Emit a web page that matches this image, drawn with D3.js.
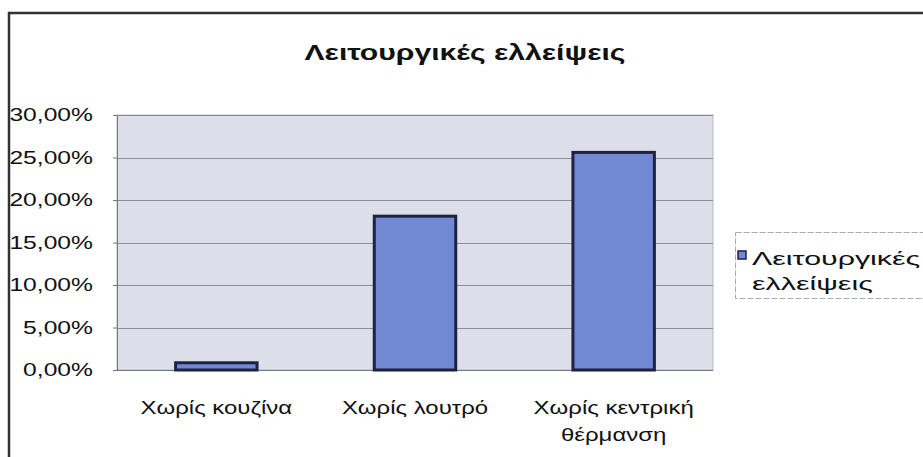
<!DOCTYPE html>
<html><head><meta charset="utf-8">
<script src="https://cdn.jsdelivr.net/npm/d3@7"></script>
<style>body{margin:0;background:#fff;} svg{display:block;font-family:"Liberation Sans",Arial,sans-serif;}</style>
</head><body>
<script>
const categories = [["Χωρίς κουζίνα"], ["Χωρίς λουτρό"], ["Χωρίς κεντρική", "θέρμανση"]];
const values = [0.0085, 0.181, 0.256];
const yTicks = [0, 0.05, 0.10, 0.15, 0.20, 0.25, 0.30];
const seriesName = ["Λειτουργικές", "ελλείψεις"];
const title = "Λειτουργικές ελλείψεις";

const W = 923, H = 457;
const SX = 1.37; // horizontal stretch of the original picture
const svg = d3.select("body").append("svg").attr("width", W).attr("height", H);

// outer frame
svg.append("path").attr("d", `M9,${H} V13 H${W}`).attr("fill","none").attr("stroke","#333").attr("stroke-width",2.5);

const plot = {l:117, r:713, t:115, b:370};
const x = d3.scaleBand().domain(d3.range(categories.length)).range([plot.l, plot.r]).paddingInner(0.59).paddingOuter(0.295);
const y = d3.scaleLinear().domain([0, 0.30]).range([plot.b, plot.t]);

svg.append("rect").attr("x",plot.l).attr("y",plot.t).attr("width",plot.r-plot.l).attr("height",plot.b-plot.t)
  .attr("fill","#dcdfe9").attr("stroke","#b8bac0").attr("stroke-width",1);

svg.append("g").selectAll("line").data(yTicks.slice(1)).join("line")
  .attr("x1",plot.l).attr("x2",plot.r).attr("y1",d=>Math.round(y(d))+0.5).attr("y2",d=>Math.round(y(d))+0.5)
  .attr("stroke","#8c8e94").attr("stroke-width",1.2);

const fmt = d => d3.format(".2f")(d*100).replace(".", ",") + "%";
const yAxis = d3.axisLeft(y).tickValues(yTicks).tickFormat(fmt).tickSize(4).tickPadding(20);
const ga = svg.append("g").attr("transform",`translate(${plot.l},0)`).call(yAxis);
ga.select(".domain").attr("stroke","#777");
ga.selectAll(".tick line").attr("stroke","#777");
ga.selectAll("text").attr("font-size",18).attr("fill","#111").attr("font-family","Liberation Sans, Arial, sans-serif")
  .attr("x",0).attr("transform",`translate(-24,0) scale(${SX},1)`);

// bottom axis line
svg.append("line").attr("x1",plot.l).attr("x2",plot.r).attr("y1",plot.b+0.5).attr("y2",plot.b+0.5).attr("stroke","#777");

svg.append("g").selectAll("rect").data(values).join("rect")
  .attr("x",(d,i)=>x(i)).attr("width",x.bandwidth())
  .attr("y",d=>y(d)).attr("height",d=>plot.b-y(d))
  .attr("fill","#7189d2").attr("stroke","#1e2142").attr("stroke-width",3);

const xl = svg.append("g").selectAll("text").data(categories).join("text")
  .attr("text-anchor","middle").attr("font-size",17.5).attr("fill","#111")
  .attr("transform",(d,i)=>`translate(${x(i)+x.bandwidth()/2},414) scale(${SX},1)`);
xl.selectAll("tspan").data(d=>d).join("tspan").attr("x",0).attr("dy",(d,j)=>j?27:0).text(d=>d);

svg.append("text").attr("text-anchor","middle")
  .attr("transform",`translate(465,60) scale(${SX},1)`)
  .attr("font-size",22).attr("font-weight","bold").attr("fill","#111").text(title);

// legend
svg.append("rect").attr("x",735.5).attr("y",232.5).attr("width",200).attr("height",66)
  .attr("fill","#fff").attr("stroke","#aaa").attr("stroke-width",1).attr("stroke-dasharray","6,2");
svg.append("rect").attr("x",738).attr("y",251).attr("width",8).attr("height",8)
  .attr("fill","#7189d2").attr("stroke","#1e2142").attr("stroke-width",1.5);
svg.append("g").selectAll("text").data(seriesName).join("text")
  .attr("transform",(d,i)=>`translate(752,${265+i*25}) scale(1.6,1)`)
  .attr("font-size",19).attr("fill","#111").text(d=>d);
</script>
</body></html>
